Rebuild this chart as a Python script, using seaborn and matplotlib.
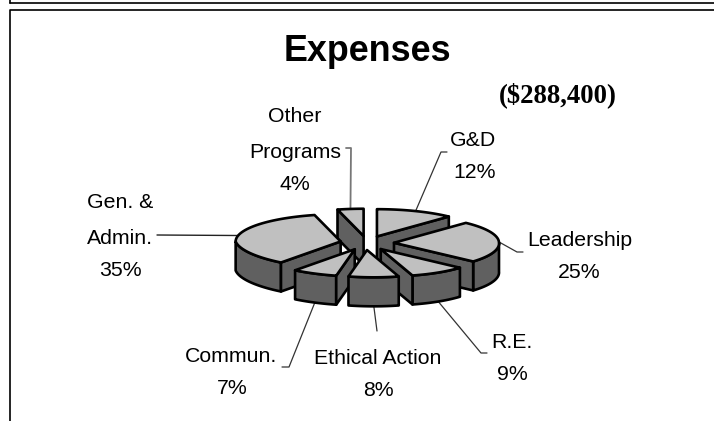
"""
Exploded 3D style pie of expenses, drawn on a pixel sized axes.
"""
import matplotlib
matplotlib.use('Agg')  # Use non-interactive backend
import matplotlib.pyplot as plt
import seaborn as sns
import numpy as np

categories = ['G&D', 'Leadership', 'R.E.', 'Ethical Action', 'Commun.', 'Gen. & Admin.', 'Other Programs']
shares = [12, 25, 9, 8, 7, 35, 4]

# text lines of every label, with the pixel centre of each line
label_lines = [
    [('G&D', 473, 141), ('12%', 475, 173)],
    [('Leadership', 580, 241), ('25%', 579, 272)],
    [('R.E.', 512, 342), ('9%', 512, 374)],
    [('Ethical Action', 378, 358), ('8%', 378, 390)],
    [('Commun.', 231, 357), ('7%', 232, 388)],
    [('Gen. &', 120, 202), ('Admin.', 120, 239), ('35%', 120, 270)],
    [('Other', 295, 116), ('Programs', 295, 153), ('4%', 295, 184)],
]
# elbow points of the leader lines, from the pie outwards
leader_ends = [
    [(441, 152), (447, 152)],
    [(517, 252), (523, 252)],
    [(481, 353), (487, 353)],
    [(377, 331)],
    [(289, 367), (282, 367)],
    [(157, 235)],
    [(351, 148), (346, 148)],
]
leader_styles = [
    ('#333333', 0.9), ('#333333', 0.9), ('#333333', 0.9), ('#333333', 0.9),
    ('#333333', 0.9), ('#222222', 1.0), ('#777777', 1.3),
]
# which slices start the leader at the bottom of the wall
leader_on_wall = [False, False, True, True, True, False, False]
draw_order = [6, 0, 5, 1, 4, 2, 3]

CX, CY = 367, 243
RX, SQUASH, DEPTH, EXPLODE = 105, 0.26, 29, 27
PERSPECTIVE = 0.25
TOP_COLOR, WALL_COLOR = '#c0c0c0', '#606060'

sns.set_theme(style='white')
plt.rcParams['font.family'] = ['Liberation Sans', 'DejaVu Sans']

fig = plt.figure(figsize=(7.14, 4.21), dpi=100)
ax = fig.add_axes([0, 0, 1, 1])
ax.set_xlim(0, 714)
ax.set_ylim(421, 0)
ax.axis('off')


def rim(angle, ox, oy, radius=RX, skew=True):
    # angle in radians, clockwise from the top of the pie
    dy = -radius * SQUASH * np.cos(angle)
    dx = radius * np.sin(angle)
    if skew:
        # the front of the pie leans right a little, stronger on the left
        dx = dx + PERSPECTIVE * np.maximum(dy, 0) * (1 - 0.6 * np.sin(angle))
    return ox + dx, oy + dy


def face(ax, xs, ys, color, z):
    ax.fill(xs, ys, facecolor=color, edgecolor='black', linewidth=1.9, joinstyle='round', zorder=z)


bounds = np.concatenate([[0], np.cumsum(shares)]) / sum(shares) * 2 * np.pi
for z, i in enumerate(draw_order):
    a0, a1 = bounds[i], bounds[i + 1]
    mid = (a0 + a1) / 2
    ox, oy = rim(mid, CX, CY, EXPLODE, skew=False)
    base = 10 + z * 5

    # outer wall, only the part that faces the viewer
    lo, hi = max(a0, np.pi / 2), min(a1, 3 * np.pi / 2)
    if hi > lo:
        wx, wy = rim(np.linspace(lo, hi, 60), ox, oy)
        face(ax, np.r_[wx, wx[::-1]], np.r_[wy, wy[::-1] + DEPTH], WALL_COLOR, base)

    # cut faces, only those turned towards the viewer
    for a, normal in ((a0, a0 - np.pi / 2), (a1, a1 + np.pi / 2)):
        if np.cos(normal) < -1e-6:
            ex, ey = rim(a, ox, oy)
            face(ax, [ox, ex, ex, ox], [oy, ey, ey + DEPTH, oy + DEPTH], WALL_COLOR, base + 1)

    rx_, ry_ = rim(np.linspace(a0, a1, 60), ox, oy)
    face(ax, np.r_[[ox], rx_], np.r_[[oy], ry_], TOP_COLOR, base + 2)

    lx, ly = rim(mid, ox, oy)
    if leader_on_wall[i]:
        ly += DEPTH
    path = [(lx, ly)] + leader_ends[i]
    ax.plot([p[0] for p in path], [p[1] for p in path], color=leader_styles[i][0],
            lw=leader_styles[i][1], zorder=5)

for lines in label_lines:
    for text, x, y in lines:
        ax.text(x, y, text, fontsize=15.3, color='black', ha='center', va='center')

ax.text(367, 61, 'Expenses', fontsize=25.8, fontweight='bold', ha='center', va='baseline', color='black')
ax.text(558, 95, '($288,400)', fontsize=19.3, fontweight='bold', ha='center', va='center',
        color='black', family=['Liberation Serif', 'DejaVu Serif'])

# slide frame lines
ax.plot([10, 714], [2.5, 2.5], color='black', lw=1.2, zorder=1)
ax.plot([10, 10], [0, 2.5], color='black', lw=1.2, zorder=1)
ax.plot([10, 10, 714], [421, 9.5, 9.5], color='black', lw=1.2, zorder=1)

fig.savefig('out.png', dpi=100)
plt.close(fig)
